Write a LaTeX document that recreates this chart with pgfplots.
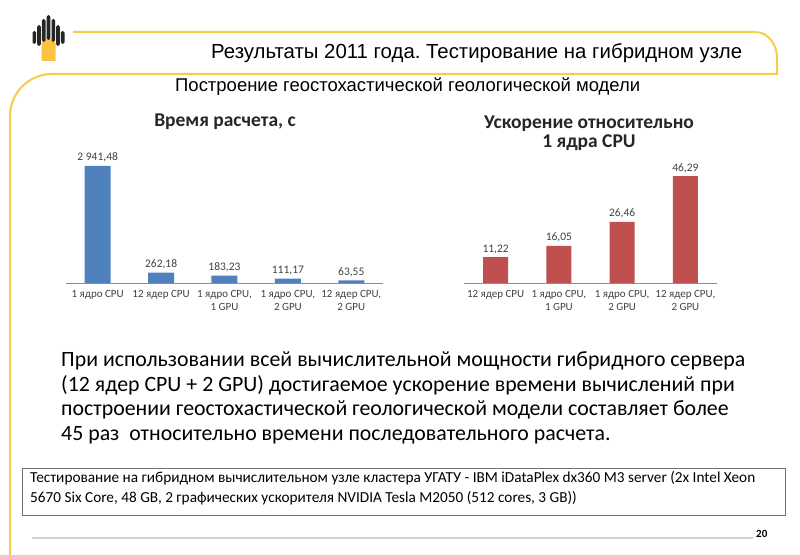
\documentclass[border=0pt]{standalone}
\usepackage{fontspec}
\setmainfont{Carlito}
\newfontfamily\arialf{Liberation Sans}
\usepackage{graphicx}
\usepackage{pgfplots}
\pgfplotsset{compat=1.18}
\definecolor{ylw}{RGB}{247,204,72}
\definecolor{barblue}{RGB}{79,129,189}
\definecolor{barred}{RGB}{192,80,77}
\definecolor{txtgray}{RGB}{64,64,64}
\newsavebox\tmpboxA
\newsavebox\tmpboxB
\newlength\tmplenA
\newlength\tmplenB
\newcommand\tickfont{\fontsize{11}{13}\selectfont}
\newcommand\valfont{\fontsize{11.5}{12}\selectfont}
\newcommand\ttlfont{\fontsize{19.5}{22}\selectfont\bfseries}
\frenchspacing
\begin{document}
\frenchspacing
\sbox\tmpboxA{\fontsize{20}{24}\selectfont При использовании всей вычислительной мощности гибридного сервера}%
\setlength\tmplenA{\wd\tmpboxA}%
\sbox\tmpboxB{\fontsize{14}{16}\selectfont Тестирование на гибридном вычислительном узле кластера УГАТУ - IBM iDataPlex dx360 M3 server (2x Intel Xeon}%
\setlength\tmplenB{\wd\tmpboxB}%
\pgfmathsetmacro\bs{684pt/\tmplenA}%
\pgfmathsetmacro\cs{725pt/\tmplenB}%
\begin{tikzpicture}
\useasboundingbox (0,0) rectangle (800pt,554pt);
\pgfplotsset{
  bars/.style={
    scale only axis, height=130pt, ymin=0,
    hide y axis, axis x line*=bottom,
    x axis line style={draw=black!45,-},
    xtick=data, major tick length=0pt,
    xticklabel style={font=\tickfont, align=center, text=txtgray, yshift=-4pt},
    ybar, nodes near coords, point meta=explicit symbolic,
    nodes near coords style={font=\valfont, text=txtgray},
    clip=false, axis background/.style={fill=none}
  }
}
% left chart
\begin{axis}[bars, at={(66pt,271pt)}, anchor=south west,
  width=317pt, xmin=-0.5, xmax=4.5, ymax=3268, bar width=26pt,
  xticklabels={{1 ядро CPU},{12 ядер CPU},{1 ядро CPU,\\1 GPU},{1 ядро CPU,\\2 GPU},{12 ядер CPU,\\2 GPU}}]
\addplot[fill=barblue, draw=none] coordinates {
  (0,2941.48) [{2 941,48}]
  (1,262.18) [{262,18}]
  (2,183.23) [{183,23}]
  (3,111.17) [{111,17}]
  (4,63.55) [{63,55}]
};
\end{axis}
% right chart
\begin{axis}[bars, at={(464pt,271pt)}, anchor=south west,
  width=253pt, xmin=-0.5, xmax=3.5, ymax=56.3, bar width=25pt,
  xticklabels={{12 ядер CPU},{1 ядро CPU,\\1 GPU},{1 ядро CPU,\\2 GPU},{12 ядер CPU,\\2 GPU}}]
\addplot[fill=barred, draw=none] coordinates {
  (0,11.22) [{11,22}]
  (1,16.05) [{16,05}]
  (2,26.46) [{26,46}]
  (3,46.29) [{46,29}]
};
\end{axis}
\begin{scope}[x=1pt,y=-1pt,shift={(0pt,554pt)}]
% yellow frame lines
\draw[ylw, line width=2pt] (73,32) -- (755,32) to[out=0,in=90] (777,58) -- (777,74) -- (52,74) to[out=180,in=90] (10,116) -- (10,556);
% logo
\fill[ylw!90!orange] (41.5,61) -- (41.5,43) -- (48.5,37) -- (55.5,43) -- (55.5,61) -- cycle;
\foreach \cx/\tp/\bt in {34.3/31/44, 39/25/46, 43.7/19/42, 48.5/15/40, 53.3/19/42, 58/25/46, 62.7/31/44}{
  \fill[black!85, rounded corners=1.6pt] (\cx-1.8,\bt) rectangle (\cx+1.8,\tp);
}
% titles
\node[anchor=base west, inner sep=0pt] at (211,59) {\resizebox{531pt}{!}{\arialf\fontsize{19.5}{22}\selectfont Результаты 2011 года. Тестирование на гибридном узле}};
\node[anchor=base west, inner sep=0pt] at (175,92) {\resizebox{465pt}{!}{\arialf\fontsize{16}{18}\selectfont Построение геостохастической геологической модели}};
% chart titles
\node[font=\ttlfont, text=black!85] at (225,122) {Время расчета, с};
\node[font=\ttlfont, text=black!85] at (589,124) {Ускорение относительно};
\node[font=\ttlfont, text=black!85] at (589,143) {1 ядра CPU};
% body text
\node[anchor=base west, inner sep=0pt] at (61,367) {\scalebox{\bs}{\fontsize{20}{24}\selectfont При использовании всей вычислительной мощности гибридного сервера}};
\node[anchor=base west, inner sep=0pt] at (61,391.5) {\scalebox{\bs}{\fontsize{20}{24}\selectfont (12 ядер CPU + 2 GPU) достигаемое ускорение времени вычислений при}};
\node[anchor=base west, inner sep=0pt] at (61,416) {\scalebox{\bs}{\fontsize{20}{24}\selectfont построении геостохастической геологической модели составляет более}};
\node[anchor=base west, inner sep=0pt] at (61,440.5) {\scalebox{\bs}{\fontsize{20}{24}\selectfont 45 раз\ \ относительно времени последовательного расчета.}};
% box
\draw[black!55, line width=1pt] (22,469) rectangle (785,515);
\node[anchor=base west, inner sep=0pt] at (30,483) {\scalebox{\cs}{\fontsize{14}{16}\selectfont Тестирование на гибридном вычислительном узле кластера УГАТУ - IBM iDataPlex dx360 M3 server (2x Intel Xeon}};
\node[anchor=base west, inner sep=0pt] at (30,502) {\scalebox{\cs}{\fontsize{14}{16}\selectfont 5670 Six Core, 48 GB, 2 графических ускорителя NVIDIA Tesla M2050 (512 cores, 3 GB))}};
% footer
\draw[black!18, line width=2pt] (32,538) -- (753,538);
\node[anchor=base west, inner sep=0pt, font=\fontsize{11}{12}\selectfont\bfseries] at (756,537) {20};
\end{scope}
\end{tikzpicture}
\end{document}
